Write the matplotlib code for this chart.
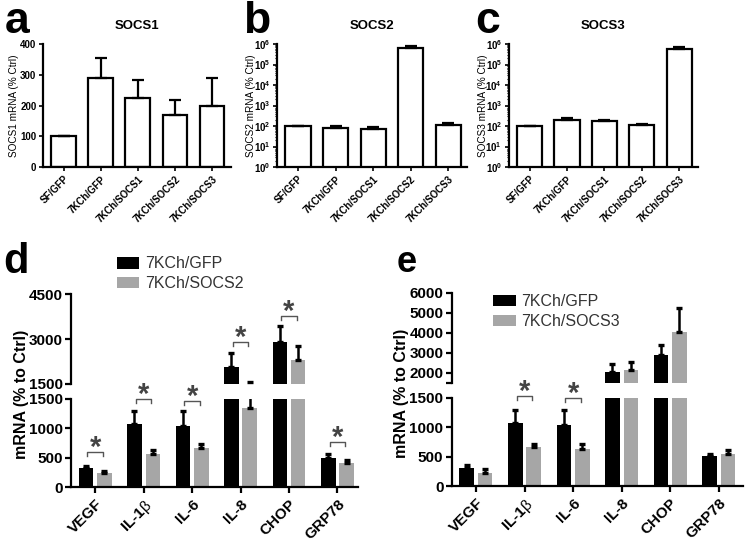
import matplotlib
matplotlib.use('Agg')
import matplotlib.pyplot as plt
import numpy as np
from matplotlib.ticker import LogLocator, NullFormatter, FixedLocator

plt.rcParams['font.family'] = ['Liberation Sans', 'DejaVu Sans']
plt.rcParams['mathtext.fontset'] = 'custom'
plt.rcParams['mathtext.rm'] = 'Liberation Sans'
plt.rcParams['mathtext.bf'] = 'Liberation Sans:bold'

# --- datos paneles a-c (media y limite superior del error) ---
groups = ['SF/GFP', '7KCh/GFP', '7KCh/SOCS1', '7KCh/SOCS2', '7KCh/SOCS3']
socs1_mean = [100, 288, 223, 168, 200]
socs1_top = [100, 355, 282, 218, 290]
socs2_mean = [100, 82, 69, 6.3e5, 108]
socs2_top = [100, 96, 86, 7.6e5, 138]
socs3_mean = [100, 203, 170, 112, 5.5e5]
socs3_top = [100, 255, 200, 128, 7.4e5]

# --- datos paneles d-e ---
genes = ['VEGF', r'IL-1$\mathrm{\beta}$', 'IL-6', 'IL-8', 'CHOP', 'GRP78']
d_gfp = [321, 1071, 1032, 2050, 2909, 500]
d_gfp_err = [40, 220, 260, 470, 537, 57]
d_socs2 = [237, 558, 660, 1351, 2282, 410]
d_socs2_err = [45, 68, 67, 216, 470, 56]
d_sig_idx = [0, 1, 2, 3, 4, 5]
d_sig_y = [597, 1500, 1460, 2890, 3770, 760]

e_gfp = [314, 1070, 1031, 2030, 2900, 510]
e_gfp_err = [46, 220, 259, 420, 500, 45]
e_socs3 = [220, 664, 630, 2130, 4040, 545]
e_socs3_err = [67, 51, 90, 420, 1170, 70]
e_sig_idx = [1, 2]
e_sig_y = [1528, 1494]

GRAY = '#a6a6a6'

fig = plt.figure(figsize=(7.47, 5.40), dpi=100)


def top_panel(rect, mean, top, title, ylabel, log=False, labx=-0.12):
    ax = fig.add_axes(rect)
    x = np.arange(len(groups))
    mean = np.array(mean, dtype=float)
    err = np.array(top, dtype=float) - mean
    ax.bar(x, mean, width=0.67, color='white', edgecolor='black', linewidth=1.6, zorder=2)
    ax.errorbar(x, mean, yerr=[np.zeros_like(err), err], fmt='none', ecolor='black',
                elinewidth=1.6, capsize=4.5, capthick=1.6, zorder=3)
    ax.set_xlim(-0.55, 4.5)
    if log:
        ax.set_yscale('log')
        ax.set_ylim(1, 1e6)
        ax.yaxis.set_major_locator(LogLocator(base=10, numticks=10))
        ax.yaxis.set_minor_locator(LogLocator(base=10, subs=np.arange(2, 10), numticks=10))
        ax.yaxis.set_minor_formatter(NullFormatter())
    else:
        ax.set_ylim(0, 400)
        ax.set_yticks([0, 100, 200, 300, 400])
    for s in ['top', 'right']:
        ax.spines[s].set_visible(False)
    for s in ['left', 'bottom']:
        ax.spines[s].set_linewidth(1.6)
    ax.set_xticks(x)
    ax.set_xticklabels(groups, rotation=45, ha='right', rotation_mode='anchor',
                       fontsize=7, fontweight='bold')
    ax.tick_params(axis='both', width=1.2, length=3, labelsize=7, pad=2)
    ax.tick_params(axis='y', which='minor', width=0.8, length=1.8)
    for t in ax.get_yticklabels():
        t.set_fontweight('bold')
    ax.set_title(title, fontsize=9.5, fontweight='bold', pad=11)
    ax.set_ylabel(ylabel, fontsize=7.2)
    ax.yaxis.set_label_coords(labx, 0.5)
    return ax


top_panel([0.058, 0.6907, 0.2507, 0.2278], socs1_mean, socs1_top, 'SOCS1',
          'SOCS1 mRNA (% Ctrl)', labx=-0.13)
top_panel([0.3712, 0.6907, 0.254, 0.2278], socs2_mean, socs2_top, 'SOCS2',
          'SOCS2 mRNA (% Ctrl)', log=True, labx=-0.11)
top_panel([0.6814, 0.6907, 0.253, 0.2278], socs3_mean, socs3_top, 'SOCS3',
          'SOCS3 mRNA (% Ctrl)', log=True, labx=-0.11)


def bracket(ax, xc, y):
    x0, x1 = xc - 0.16, xc + 0.16
    py = ax.transData.transform([(0, y)])[0][1]
    y_low = ax.transData.inverted().transform([(0, py - 4)])[0][1]
    ax.plot([x0, x0, x1, x1], [y_low, y, y, y_low], color='#555555', lw=1.0,
            clip_on=False, zorder=4)
    ax.annotate('*', (xc, y), xytext=(0, 3), textcoords='offset points',
                ha='center', va='center', fontsize=21, fontweight='bold',
                color='#444444', annotation_clip=False, zorder=5)


def broken_panel(lo_rect, hi_rect, gfp, gfp_err, other, other_err, label2,
                 hi_lim, hi_ticks, hi_labels, sig_idx, sig_y, xmax, leg_pos):
    ax_lo = fig.add_axes(lo_rect)
    ax_hi = fig.add_axes(hi_rect)
    ax_hi.patch.set_visible(False)
    x = np.arange(len(genes))
    w = 0.3
    for ax in (ax_lo, ax_hi):
        b1 = ax.bar(x - 0.19, gfp, width=w, color='black', zorder=2)
        b2 = ax.bar(x + 0.19, other, width=w, color=GRAY, zorder=2)
        ax.errorbar(x - 0.19, gfp, yerr=[np.zeros(len(gfp)), gfp_err], fmt='none',
                    ecolor='black', elinewidth=1.8, capsize=2.2, capthick=2.4, zorder=3)
        ax.errorbar(x + 0.19, other, yerr=[np.zeros(len(other)), other_err], fmt='none',
                    ecolor='black', elinewidth=1.8, capsize=2.2, capthick=2.4, zorder=3)
        ax.set_xlim(-0.5, xmax)
        for s in ['top', 'right']:
            ax.spines[s].set_visible(False)
        ax.spines['left'].set_linewidth(1.6)
        ax.spines['bottom'].set_linewidth(1.6)
        ax.tick_params(axis='y', width=1.6, length=4, labelsize=11, pad=2)
    ax_lo.set_ylim(0, 1500)
    ax_lo.set_yticks([0, 500, 1000, 1500])
    ax_lo.set_xticks(x)
    ax_lo.set_xticklabels(genes, rotation=45, ha='right', rotation_mode='anchor',
                          fontsize=11, fontweight='bold')
    ax_lo.tick_params(axis='x', width=1.6, length=4, pad=3)
    ax_hi.set_ylim(*hi_lim)
    ax_hi.spines['bottom'].set_visible(False)
    ax_hi.set_xticks([])
    ax_hi.yaxis.set_major_locator(FixedLocator(hi_ticks))
    ax_hi.set_yticklabels(hi_labels)
    for ax in (ax_lo, ax_hi):
        for t in ax.get_yticklabels():
            t.set_fontweight('bold')
    ax_lo.set_ylabel('mRNA (% to Ctrl)', fontsize=11.5, fontweight='bold')
    ax_lo.yaxis.set_label_coords(-0.145, 1.05)
    for i, y in zip(sig_idx, sig_y):
        ax = ax_lo if y <= 1550 else ax_hi
        bracket(ax, x[i], y)
    fig.legend([b1, b2], ['7KCh/GFP', label2], loc='upper left', bbox_to_anchor=leg_pos,
               frameon=False, fontsize=11.5, handlelength=1.4, handleheight=0.75,
               handletextpad=0.35, labelspacing=0.3, borderaxespad=0,
               labelcolor='#333333')
    return ax_lo, ax_hi


broken_panel([0.095, 0.0976, 0.384, 0.164], [0.095, 0.2894, 0.384, 0.1656],
             d_gfp, d_gfp_err, d_socs2, d_socs2_err, '7KCh/SOCS2',
             (1500, 4500), [1500, 3000, 4500], ['1500', '3000', '4500'],
             d_sig_idx, d_sig_y, 5.42, (0.148, 0.537))
broken_panel([0.6047, 0.0994, 0.39, 0.164], [0.6047, 0.2913, 0.39, 0.1667],
             e_gfp, e_gfp_err, e_socs3, e_socs3_err, '7KCh/SOCS3',
             (1500, 6000), [1500, 2000, 3000, 4000, 5000, 6000],
             ['', '2000', '3000', '4000', '5000', '6000'],
             e_sig_idx, e_sig_y, 5.5, (0.652, 0.467))

# letras de panel
fig.text(0.006, 0.939, 'a', fontsize=32, fontweight='bold', va='baseline')
fig.text(0.325, 0.939, 'b', fontsize=32, fontweight='bold', va='baseline')
fig.text(0.636, 0.939, 'c', fontsize=32, fontweight='bold', va='baseline')
fig.text(0.004, 0.494, 'd', fontsize=30, fontweight='bold', va='baseline')
fig.text(0.531, 0.496, 'e', fontsize=26, fontweight='bold', va='baseline')

fig.savefig('out.png', dpi=100)
